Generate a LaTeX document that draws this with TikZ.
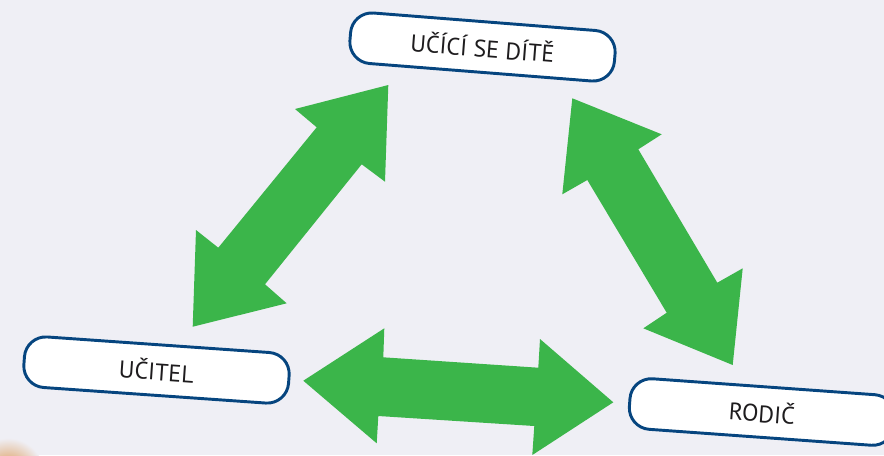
\documentclass[tikz,border=0pt]{standalone}
\usepackage{fontspec}
\setmainfont{PT Sans}
\definecolor{bggray}{HTML}{EFEFF5}
\definecolor{arrowgreen}{HTML}{3BB54A}
\definecolor{boxblue}{HTML}{06457F}
\definecolor{textgray}{HTML}{1E1C1E}
\definecolor{photoorange}{HTML}{D98A3A}
\tikzset{
  rolebox/.style={draw=boxblue, line width=2.2pt, fill=white, rounded corners=16pt,
    minimum width=199pt, minimum height=38pt, inner sep=0pt,
    text=textgray, font=\fontsize{18}{20}\selectfont},
  bigarrow/.style={fill=arrowgreen},
}
\begin{document}
\begin{tikzpicture}[x=0.75pt,y=-0.75pt]
\clip (0,0) rectangle (884,455);
\fill[bggray] (0,0) rectangle (884,455);
\shade[inner color=photoorange, outer color=bggray] (8,474) circle (36);
% child <-> teacher
\fill[bigarrow] (388.3,85) -- (385,181.7) -- (361.7,164.3) -- (265,284.3) -- (286.7,303.3)
    -- (192.7,326.7) -- (196,230) -- (218.3,247.7) -- (316.7,127.3) -- (295,109) -- cycle;
% child <-> parent
\fill[bigarrow] (572.3,98.3) -- (661.7,134.3) -- (638.3,149.3) -- (717.3,282.7) -- (742.7,268.3)
    -- (732.7,365) -- (643.3,328.3) -- (666.7,312.7) -- (587.3,180) -- (562.3,194.3) -- cycle;
% teacher <-> parent
\fill[bigarrow] (303.3,380.7) -- (384.3,328.3) -- (383.3,357.3) -- (538.3,367.7) -- (540,339)
    -- (613.3,402.3) -- (532.3,455) -- (534.3,426) -- (378.3,416) -- (376.7,443.3) -- cycle;
\node[rolebox, rotate=-4.5] (dite)   at (482.5,47)  {UČÍCÍ SE DÍTĚ};
\node[rolebox, rotate=-4]   (ucitel) at (156.5,370) {UČITEL};
\node[rolebox, rotate=-4.1] (rodic)  at (762,412)   {RODIČ};
\end{tikzpicture}
\end{document}
